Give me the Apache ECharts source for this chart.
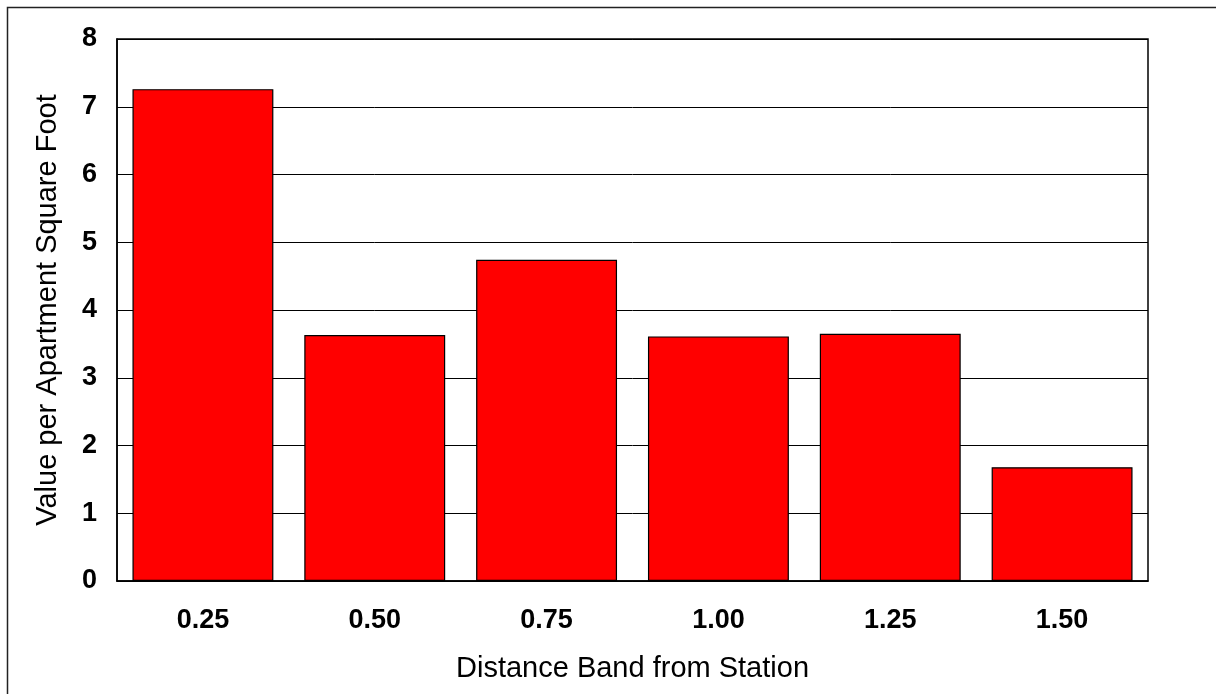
<!DOCTYPE html>
<html>
<head>
<meta charset="utf-8">
<script src="https://cdn.jsdelivr.net/npm/echarts@6/dist/echarts.min.js"></script>
<style>
  html, body { margin: 0; padding: 0; background: #fff; }
  #chart { width: 1216px; height: 694px; }
</style>
</head>
<body>
<div id="chart"></div>
<script>
// Distance bands (miles from station) and value per apartment square foot
const distanceBands = ['0.25', '0.50', '0.75', '1.00', '1.25', '1.50'];
const valuePerSqFt = [7.26, 3.63, 4.74, 3.61, 3.65, 1.68];
const yTicks = { min: 0, max: 8, interval: 1 };

const chart = echarts.init(document.getElementById('chart'), null, { renderer: 'canvas' });
const fontFamily = '"Liberation Sans", Arial, sans-serif';

chart.setOption({
  backgroundColor: '#ffffff',
  animation: false,
  graphic: [
    // frame around the chart (top and left edges)
    { type: 'polyline', silent: true,
      shape: { points: [[7.5, 694], [7.5, 7.5], [1216, 7.5]] },
      style: { stroke: '#222', lineWidth: 1.5, fill: null } }
  ],
  grid: {
    left: 117, top: 39, right: 68, bottom: 113,
    show: true, borderColor: '#000', borderWidth: 1.5, backgroundColor: 'transparent'
  },
  xAxis: {
    type: 'category',
    data: distanceBands,
    name: 'Distance Band from Station',
    nameLocation: 'middle',
    nameGap: 73,
    nameTextStyle: { fontFamily, fontSize: 29, color: '#000' },
    axisLine: { show: true, lineStyle: { color: '#000', width: 1.5 } },
    axisTick: { show: false },
    axisLabel: { fontFamily, fontSize: 27, fontWeight: 'bold', color: '#000', margin: 26 }
  },
  yAxis: {
    type: 'value',
    min: yTicks.min, max: yTicks.max, interval: yTicks.interval,
    name: 'Value per Apartment Square Foot',
    nameLocation: 'middle',
    nameGap: 55,
    nameTextStyle: { fontFamily, fontSize: 29, color: '#000' },
    axisLine: { show: true, lineStyle: { color: '#000', width: 1.5 } },
    axisTick: { show: false },
    axisLabel: { fontFamily, fontSize: 27, fontWeight: 'bold', color: '#000', margin: 20 },
    splitLine: { show: true, lineStyle: { color: '#000', width: 1 } }
  },
  series: [{
    type: 'bar',
    data: valuePerSqFt,
    barCategoryGap: '18%',
    itemStyle: { color: '#ff0000', borderColor: '#000', borderWidth: 1.2 }
  }]
});
</script>
</body>
</html>
